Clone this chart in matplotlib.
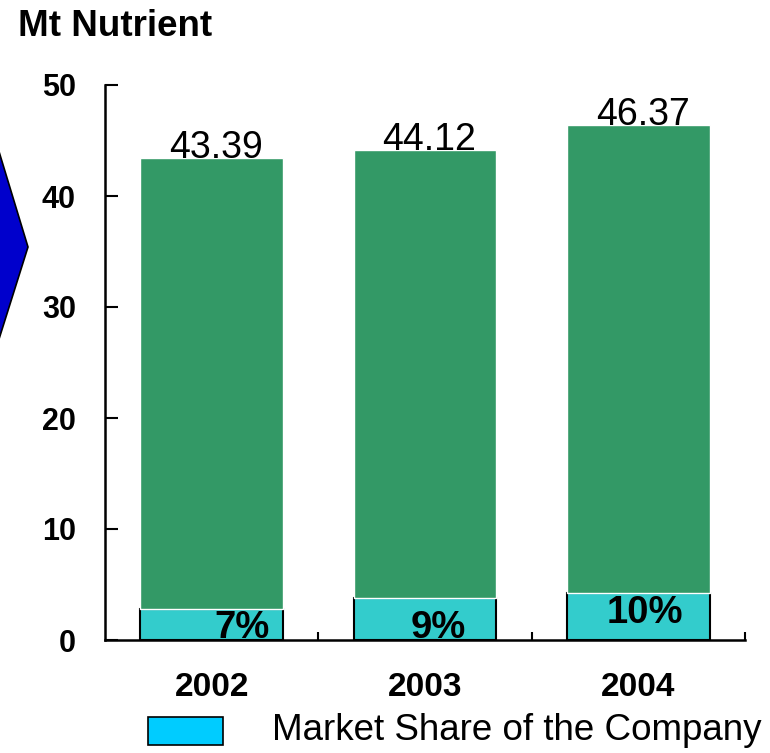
import numpy as np
import matplotlib.pyplot as plt
from matplotlib.patches import Polygon, Rectangle

plt.rcParams['font.family'] = ['Liberation Sans', 'DejaVu Sans']

years = ['2002', '2003', '2004']
totals = [43.39, 44.12, 46.37]
company = [2.8, 3.8, 4.2]
share_labels = ['7%', '9%', '10%']
yticks = [0, 10, 20, 30, 40, 50]

green = '#339966'
cyan = '#33CCCC'

fig = plt.figure(figsize=(7.7, 7.53), dpi=100)
ax = fig.add_axes([105 / 770, 1 - 640 / 753, 640 / 770, 555 / 753])

x = np.arange(len(years))
width = 0.67

# company share (bottom part)
ax.bar(x, company, width, color=cyan, edgecolor='black', linewidth=1.5, zorder=2)
# rest of the market on top
rest = [t - c for t, c in zip(totals, company)]
ax.bar(x, rest, width, bottom=company, color=green, edgecolor='white', linewidth=1, zorder=3)

# total values
for xi, t in zip(x, totals):
    ax.text(xi + 0.02, t, '{:.2f}'.format(t), ha='center', va='baseline', fontsize=27, zorder=4)

# share labels
share_pos = [(0.14, 1.1), (0.06, 1.1), (0.03, 2.4)]
for xi, lab, (dx, yy) in zip(x, share_labels, share_pos):
    ax.text(xi + dx, yy, lab, ha='center', va='center', fontsize=27.5, fontweight='bold', zorder=4)

ax.set_xlim(-0.5, 2.5)
ax.set_ylim(0, 50)
ax.set_yticks(yticks)
ax.set_yticklabels([str(v) for v in yticks], fontsize=22, fontweight='bold')
ax.set_xticks(x)
ax.set_xticklabels(years, fontsize=24, fontweight='bold')
ax.set_xticks([0.5, 1.5, 2.5], minor=True)

ax.tick_params(axis='y', direction='in', length=9, width=1.5, pad=21)
ax.tick_params(axis='x', which='major', length=0, pad=23)
ax.tick_params(axis='x', which='minor', direction='in', length=6, width=1.5)

for side in ['top', 'right']:
    ax.spines[side].set_visible(False)
for side in ['left', 'bottom']:
    ax.spines[side].set_linewidth(1.8)

fig.text(18 / 770, 1 - 27 / 753, 'Mt Nutrient', fontsize=26.5, fontweight='bold', va='center', ha='left')

# blue chevron on the left edge
chevron = Polygon([(-6 / 770, 1 - 135 / 753), (28 / 770, 1 - 247 / 753), (-6 / 770, 1 - 355 / 753)],
                  closed=True, facecolor='#0000CC', edgecolor='black', linewidth=1.2,
                  transform=fig.transFigure, clip_on=False)
fig.patches.append(chevron)

# legend
fig.patches.append(Rectangle((148 / 770, 1 - 745 / 753), 75 / 770, 28 / 753,
                             facecolor='#00CCFF', edgecolor='black', linewidth=1.2,
                             transform=fig.transFigure))
fig.text(272 / 770, 1 - 731 / 753, 'Market Share of the Company', fontsize=26.5, va='center', ha='left')

fig.savefig('out.png', dpi=100)
